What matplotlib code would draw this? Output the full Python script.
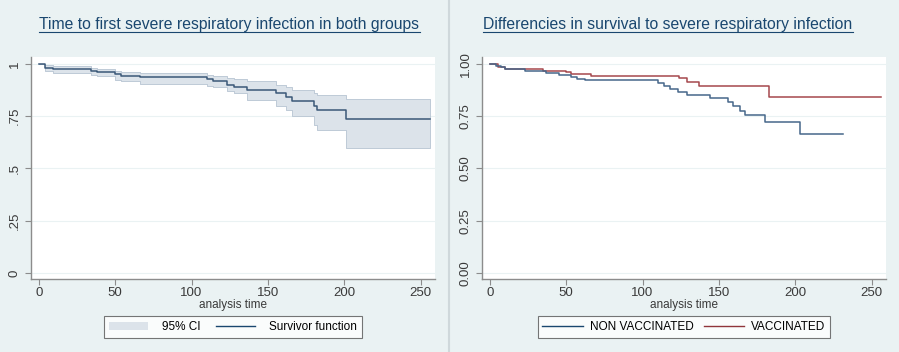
import numpy as np
import matplotlib
matplotlib.use("Agg")
import matplotlib.pyplot as plt
from matplotlib.lines import Line2D
from matplotlib.patches import Patch

plt.rcParams['font.family'] = ['Liberation Sans', 'DejaVu Sans']

# Left panel: pooled Kaplan-Meier estimate with 95% CI
t_all = [0, 4, 9, 34, 38, 50, 54, 66, 110, 114, 123, 128, 136, 155, 162, 166, 180, 182, 201, 256]
s_all = [1.0, 0.980, 0.975, 0.967, 0.962, 0.952, 0.943, 0.935, 0.927, 0.916, 0.900, 0.888,
         0.876, 0.860, 0.844, 0.823, 0.800, 0.780, 0.737, 0.737]
lo_all = [1.0, 0.966, 0.958, 0.948, 0.943, 0.925, 0.916, 0.903, 0.895, 0.888, 0.870, 0.860,
          0.828, 0.800, 0.780, 0.750, 0.708, 0.684, 0.596, 0.596]
hi_all = [1.0, 0.993, 0.990, 0.982, 0.975, 0.968, 0.963, 0.956, 0.948, 0.940, 0.932, 0.927,
          0.916, 0.900, 0.890, 0.876, 0.860, 0.852, 0.830, 0.830]

# Right panel: by vaccination status
t_nv = [0, 4, 7, 10, 23, 37, 45, 53, 57, 62, 110, 114, 118, 123, 129, 144, 156, 159, 164,
        167, 180, 203, 231]
s_nv = [1.0, 0.990, 0.985, 0.976, 0.968, 0.957, 0.947, 0.936, 0.928, 0.923, 0.909, 0.893,
        0.880, 0.867, 0.853, 0.837, 0.816, 0.797, 0.776, 0.755, 0.723, 0.663, 0.663]
t_v = [0, 5, 10, 35, 50, 53, 66, 124, 129, 137, 183, 256]
s_v = [1.0, 0.985, 0.976, 0.968, 0.960, 0.952, 0.944, 0.931, 0.915, 0.896, 0.840, 0.840]

bg = '#eaf2f3'
navy = '#1a476f'
fig = plt.figure(figsize=(8.99, 3.52), dpi=100, facecolor=bg)

# panel separator
fig.add_artist(Line2D([449 / 899, 449 / 899], [0, 1], color='#cfd8db', lw=1.5))


def style(ax, yticks, ylabels):
    ax.set_facecolor('white')
    ax.set_xlim(-5.2, 259.5)
    ax.set_ylim(-0.029, 1.033)
    ax.set_xticks([0, 50, 100, 150, 200, 250])
    ax.set_yticks(yticks)
    ax.set_yticklabels(ylabels, rotation=90, va='center')
    for s in ['top', 'right']:
        ax.spines[s].set_visible(False)
    for s in ['left', 'bottom']:
        ax.spines[s].set_color('#8c8c8c')
        ax.spines[s].set_linewidth(1.0)
    ax.tick_params(colors='#8c8c8c', labelcolor='#3a3a3a', labelsize=9.5, length=4, width=0.8)
    ax.tick_params(axis='x', pad=1.5)
    ax.grid(axis='y', color=bg, lw=0.8)
    ax.set_axisbelow(True)
    ax.set_xlabel('analysis time', fontsize=8.5, color='#3a3a3a', labelpad=0.5)


def title(ax, txt, xc):
    t = fig.text(xc / 899, 1 - 25 / 352, txt, ha='center', va='center',
                 fontsize=11.3, color=navy)
    fig.canvas.draw()
    bb = t.get_window_extent().transformed(fig.transFigure.inverted())
    y = bb.y0 + 0.002
    fig.add_artist(Line2D([bb.x0, bb.x1], [y, y], color=navy, lw=0.8))


ax1 = fig.add_axes([31 / 899, 73 / 352, 404 / 899, 222 / 352])
style(ax1, [0, 0.25, 0.5, 0.75, 1], ['0', '.25', '.5', '.75', '1'])
ax1.fill_between(t_all, lo_all, hi_all, step='post', color='#dce3ea', lw=0.6,
                 edgecolor='#b7c4d2')
ax1.step(t_all, s_all, where='post', color='#3b5878', lw=1.1)
h1 = [Patch(facecolor='#dce3ea', edgecolor='none'), Line2D([], [], color=navy, lw=1)]
leg1 = ax1.legend(h1, ['95% CI', 'Survivor function'], loc='upper center',
                  bbox_to_anchor=(0.5, -0.168), ncol=2, fontsize=8.5, frameon=True,
                  fancybox=False, edgecolor='#555555', handlelength=3.3, columnspacing=1.3,
                  borderpad=0.4, handletextpad=1.2, borderaxespad=0)
leg1.get_frame().set_linewidth(0.8)

ax2 = fig.add_axes([482 / 899, 73 / 352, 404 / 899, 222 / 352])
style(ax2, [0, 0.25, 0.5, 0.75, 1], ['0.00', '0.25', '0.50', '0.75', '1.00'])
ax2.step(t_v, s_v, where='post', color='#a5484d', lw=1.1)
ax2.step(t_nv, s_nv, where='post', color='#46678a', lw=1.1)
h2 = [Line2D([], [], color=navy, lw=1), Line2D([], [], color='#90353b', lw=1)]
leg2 = ax2.legend(h2, ['NON VACCINATED', 'VACCINATED'], loc='upper center',
                  bbox_to_anchor=(0.5, -0.168), ncol=2, fontsize=8.5, frameon=True,
                  fancybox=False, edgecolor='#555555', handlelength=3.4, columnspacing=0.9,
                  borderpad=0.4, handletextpad=0.6, borderaxespad=0)
leg2.get_frame().set_linewidth(0.8)

title(ax1, 'Time to first severe respiratory infection in both groups', 229.5)
title(ax2, 'Differencies in survival to severe respiratory infection', 668)

fig.savefig('out.png', dpi=100, facecolor=bg)
